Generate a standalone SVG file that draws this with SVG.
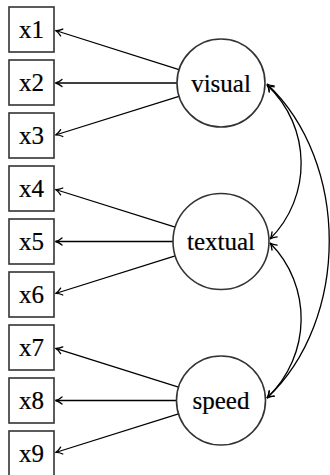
<svg xmlns="http://www.w3.org/2000/svg" width="330" height="475" viewBox="0 0 330 475">
  <style>
    .box { fill: #fff; stroke: #333; stroke-width: 1.6; }
    .lat { fill: #fff; stroke: #333; stroke-width: 1.6; }
    .lbl { font-family: 'Liberation Serif', 'Times New Roman', serif; font-size: 25px; fill: #000; stroke: #000; stroke-width: 0.2; text-anchor: middle; }
    .edge { fill: none; stroke: #000; stroke-width: 1.3; marker-end: url(#tip); }
    .cov { fill: none; stroke: #000; stroke-width: 1.3; marker-start: url(#tip); marker-end: url(#tip); }
  </style>
  <defs>
    <marker id="tip" markerUnits="userSpaceOnUse" viewBox="-8 -5 10 10" refX="0" refY="0" markerWidth="10" markerHeight="10" orient="auto-start-reverse">
      <path d="M-6.5,-3.6 C-4.2,-1.6 -1.8,-0.4 0,0 C-1.8,0.4 -4.2,1.6 -6.5,3.6" fill="none" stroke="#000" stroke-width="1.3" stroke-linecap="round"/>
    </marker>
  </defs>
  <g id="connectors">
    <line class="edge" x1="179" y1="69.7" x2="55.5" y2="30.5"/>
    <line class="edge" x1="177" y1="83" x2="55.5" y2="83"/>
    <line class="edge" x1="179" y1="96.3" x2="55.5" y2="135"/>
    <line class="edge" x1="175.2" y1="227.2" x2="55.5" y2="189.5"/>
    <line class="edge" x1="173" y1="241.5" x2="55.5" y2="241.5"/>
    <line class="edge" x1="175.2" y1="255.8" x2="55.5" y2="293.5"/>
    <line class="edge" x1="178.5" y1="387.1" x2="55.5" y2="348.3"/>
    <line class="edge" x1="176.5" y1="400.5" x2="55.5" y2="400.5"/>
    <line class="edge" x1="178.5" y1="413.9" x2="55.5" y2="452.5"/>
    <path class="cov" d="M267,85 C312,127 312,197 270,239"/>
    <path class="cov" d="M270,243 C312,285 312,355 267,398"/>
    <path class="cov" d="M267,84 C350,162 350,320 267,398"/>
  </g>
  <g id="x1"><rect class="box" x="9" y="7" width="45" height="45"/><text class="lbl" x="31.5" y="38.3">x1</text></g>
  <g id="x2"><rect class="box" x="9" y="60" width="45" height="45"/><text class="lbl" x="31.5" y="91.3">x2</text></g>
  <g id="x3"><rect class="box" x="9" y="113" width="45" height="45"/><text class="lbl" x="31.5" y="144.3">x3</text></g>
  <g id="x4"><rect class="box" x="9" y="166" width="45" height="45"/><text class="lbl" x="31.5" y="197.3">x4</text></g>
  <g id="x5"><rect class="box" x="9" y="219" width="45" height="45"/><text class="lbl" x="31.5" y="250.3">x5</text></g>
  <g id="x6"><rect class="box" x="9" y="272" width="45" height="45"/><text class="lbl" x="31.5" y="303.3">x6</text></g>
  <g id="x7"><rect class="box" x="9" y="325" width="45" height="45"/><text class="lbl" x="31.5" y="356.3">x7</text></g>
  <g id="x8"><rect class="box" x="9" y="378" width="45" height="45"/><text class="lbl" x="31.5" y="409.3">x8</text></g>
  <g id="x9"><rect class="box" x="9" y="431" width="45" height="45"/><text class="lbl" x="31.5" y="462.3">x9</text></g>
  <g id="visual"><circle class="lat" cx="221" cy="83" r="44"/><text class="lbl" x="221" y="91.7">visual</text></g>
  <g id="textual"><circle class="lat" cx="221" cy="241.5" r="48"/><text class="lbl" x="221" y="250.2">textual</text></g>
  <g id="speed"><circle class="lat" cx="221" cy="400.5" r="44.5"/><text class="lbl" x="221" y="409.2">speed</text></g>
</svg>
